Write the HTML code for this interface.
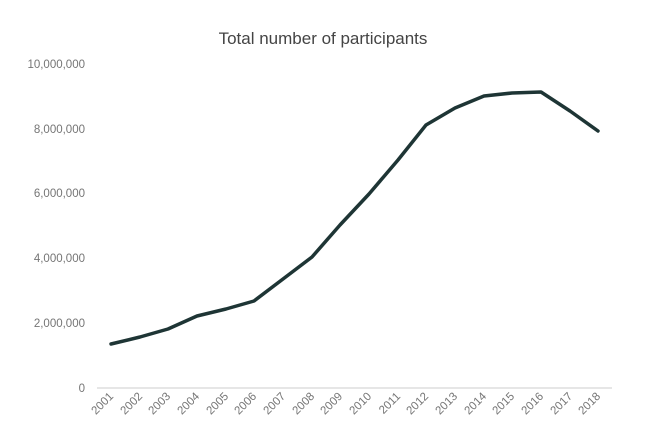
<!DOCTYPE html>
<html><head><style>
html,body{margin:0;padding:0;background:#fff;}
text{font-family:"Liberation Sans",sans-serif;}
</style></head><body>
<svg width="660" height="439" xmlns="http://www.w3.org/2000/svg">
<rect width="660" height="439" fill="#fff"/>
<text x="323" y="44" text-anchor="middle" font-size="17" fill="#444">Total number of participants</text>
<g font-size="11.5" fill="#757575" text-anchor="end">
<text x="85" y="392">0</text>
<text x="85" y="327">2,000,000</text>
<text x="85" y="262">4,000,000</text>
<text x="85" y="197">6,000,000</text>
<text x="85" y="133">8,000,000</text>
<text x="85" y="68">10,000,000</text>
</g>
<line x1="97" y1="388" x2="612" y2="388" stroke="#ccc" stroke-width="1"/>
<g font-size="11.5" fill="#757575" text-anchor="end">
<text transform="translate(114,397) rotate(-45)">2001</text>
<text transform="translate(143,397) rotate(-45)">2002</text>
<text transform="translate(171,397) rotate(-45)">2003</text>
<text transform="translate(200,397) rotate(-45)">2004</text>
<text transform="translate(229,397) rotate(-45)">2005</text>
<text transform="translate(257,397) rotate(-45)">2006</text>
<text transform="translate(286,397) rotate(-45)">2007</text>
<text transform="translate(315,397) rotate(-45)">2008</text>
<text transform="translate(343,397) rotate(-45)">2009</text>
<text transform="translate(372,397) rotate(-45)">2010</text>
<text transform="translate(401,397) rotate(-45)">2011</text>
<text transform="translate(429,397) rotate(-45)">2012</text>
<text transform="translate(458,397) rotate(-45)">2013</text>
<text transform="translate(487,397) rotate(-45)">2014</text>
<text transform="translate(515,397) rotate(-45)">2015</text>
<text transform="translate(544,397) rotate(-45)">2016</text>
<text transform="translate(573,397) rotate(-45)">2017</text>
<text transform="translate(601,397) rotate(-45)">2018</text>
</g>
<polyline fill="none" stroke="#1e3535" stroke-width="3.5" stroke-linejoin="round" stroke-linecap="round"
points="111,344 140,337 168,329 197,316 226,309 254,301 283,279 312,257 340,225 369,194 398,160 426,125 455,108 484,96 512,93 541,92 570,111 598,131"/>
</svg>
</body></html>
